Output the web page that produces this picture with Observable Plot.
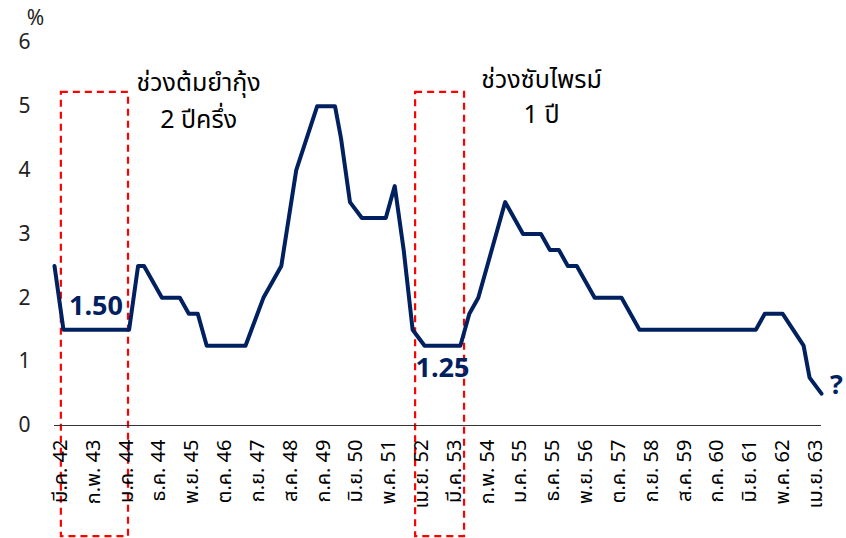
<!DOCTYPE html>
<html><head><meta charset="utf-8">
<script src="https://cdn.jsdelivr.net/npm/d3@7"></script>
<script src="https://cdn.jsdelivr.net/npm/@observablehq/plot@0.6"></script>
<style>
body{margin:0;background:#fff}
#chart svg{display:block}
</style>
</head><body><div id="chart"></div>
<script>
// month index counted from ม.ค. 42 (0) — vertices of the policy-rate line
const monthIndex = [0, 3, 25, 28, 30, 36, 42, 45, 48, 51, 64, 66, 70, 76, 81, 88, 94, 96, 99, 103, 111, 114, 117, 120, 124, 136, 139, 142, 151, 157, 163, 166, 169, 172, 175, 181, 190, 196, 235, 238, 244, 251, 253, 257];
const policyRate = [2.5, 1.5, 1.5, 2.5, 2.5, 2.0, 2.0, 1.75, 1.75, 1.25, 1.25, 1.5, 2.0, 2.5, 4.0, 5.0, 5.0, 4.5, 3.5, 3.25, 3.25, 3.75, 2.75, 1.5, 1.25, 1.25, 1.75, 2.0, 3.5, 3.0, 3.0, 2.75, 2.75, 2.5, 2.5, 2.0, 2.0, 1.5, 1.5, 1.75, 1.75, 1.25, 0.75, 0.5];

const tickMonths = [2, 13, 24, 35, 46, 57, 68, 79, 90, 101, 112, 123, 134, 145, 156, 167, 178, 189, 200, 211, 222, 233, 244, 255];
const tickLabels = ["มี.ค. 42", "ก.พ. 43", "ม.ค. 44", "ธ.ค. 44", "พ.ย. 45", "ต.ค. 46", "ก.ย. 47", "ส.ค. 48", "ก.ค. 49", "มิ.ย. 50", "พ.ค. 51", "เม.ย. 52", "มี.ค. 53", "ก.พ. 54", "ม.ค. 55", "ธ.ค. 55", "พ.ย. 56", "ต.ค. 57", "ก.ย. 58", "ส.ค. 59", "ก.ค. 60", "มิ.ย. 61", "พ.ค. 62", "เม.ย. 63"];
const yTicks = [0, 1, 2, 3, 4, 5, 6];

// crisis periods (month index) and their two-line annotation
const periodStart = [2.3, 121];
const periodEnd = [24.8, 137.4];
const periodTop = [5.22, 5.22];
const periodBottom = [-1.74, -1.74];
const nameLine1 = ["ช่วงต้มยำกุ้ง", "ช่วงซับไพรม์"];
const nameLine2 = ["2 ปีครึ่ง", "1 ปี"];
const nameX = [48.3, 163.2];
const nameY1 = [5.36, 5.42];
const nameY2 = [4.78, 4.87];

// value callouts
const calloutText = ["1.50", "1.25", "?"];
const calloutX = [13.9, 130, 262];
const calloutY = [1.86, 0.89, 0.63];

const line = monthIndex.map((m, i) => ({m, v: policyRate[i]}));
const periods = periodStart.map((s, i) => ({s, e: periodEnd[i], t: periodTop[i], b: periodBottom[i]}));
const names = nameLine1.flatMap((t, i) => [{t, x: nameX[i], y: nameY1[i]}, {t: nameLine2[i], x: nameX[i], y: nameY2[i]}]);
const callouts = calloutText.map((t, i) => ({t, x: calloutX[i], y: calloutY[i]}));

const FONT = "Tahoma, 'Leelawadee UI', 'Noto Sans Thai', 'Noto Sans', 'DejaVu Sans', sans-serif";
const NAVY = "#002060";

const chart = Plot.plot({
  width: 846, height: 538,
  marginLeft: 54, marginRight: 25, marginTop: 42, marginBottom: 113,
  style: {fontFamily: FONT, background: "transparent", color: "#000", overflow: "visible"},
  x: {domain: [0, 257], axis: null},
  y: {domain: [0, 6], axis: null},
  marks: [
    Plot.rect(periods, {x1: "s", x2: "e", y1: "b", y2: "t", fill: "none", stroke: "#ff0000", strokeWidth: 2.2, strokeDasharray: "7,5"}),
    Plot.ruleY([0], {stroke: "#333", strokeWidth: 1.2}),
    Plot.axisY(yTicks, {tickSize: 0, tickPadding: 24, fontSize: 21, fill: "#222", tickFormat: "d"}),
    Plot.axisX(tickMonths, {tickSize: 0, tickPadding: 14, tickRotate: -90, fontSize: 20, fill: "#000",
      tickFormat: d => tickLabels[tickMonths.indexOf(d)]}),
    Plot.line(line, {x: "m", y: "v", stroke: NAVY, strokeWidth: 4, strokeLinejoin: "round", strokeLinecap: "round"}),
    Plot.text(names, {x: "x", y: "y", text: "t", fontSize: 25, fill: "#000", textAnchor: "middle"}),
    Plot.text(callouts, {x: "x", y: "y", text: "t", fontSize: 27, fontWeight: "bold", fill: NAVY}),
    Plot.text(["%"], {frameAnchor: "top-left", textAnchor: "middle", lineAnchor: "middle", dx: -19, dy: -24, fontSize: 21, fill: "#222"})
  ]
});
document.getElementById("chart").append(chart);
</script>
</body></html>
